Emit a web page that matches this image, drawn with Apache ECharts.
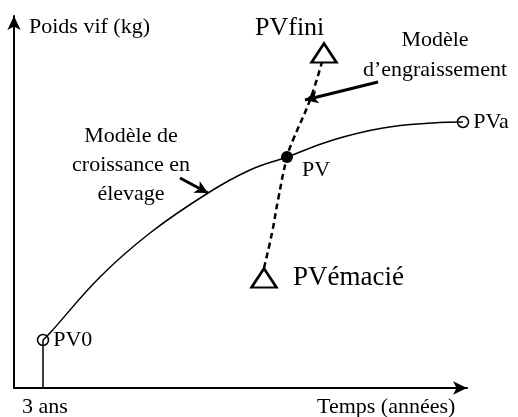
<!DOCTYPE html>
<html>
<head>
<meta charset="utf-8">
<script src="https://cdn.jsdelivr.net/npm/echarts@6/dist/echarts.min.js"></script>
<style>
  html, body { margin: 0; padding: 0; background: #fff; }
  #chart { width: 518px; height: 417px; }
</style>
</head>
<body>
<div id="chart"></div>
<script>
// schematic units (x: time, y: live weight)
const growthCurve = [[29, 48], [36, 55], [86, 111], [136, 155], [194, 195], [236, 218], [273, 231],
  [319, 248], [369, 260], [419, 265], [449, 266]]
const fatteningCurve = [[250, 120], [258, 155], [264, 188], [273, 231], [279, 248], [296, 288], [308, 326]]
const startTick = [[29, 0], [29, 48]]
const openPoints = [{ name: 'PV0', value: [29, 48] }, { name: 'PVa', value: [449, 266] }]
const currentPoint = [{ name: 'PV', value: [273, 231] }]
const triangles = [{ name: 'PVfini', value: [310, 335] }, { name: 'PVémacié', value: [250, 110] }]
const growthArrow = [[166, 210], [194, 195]]
const fatteningArrow = [[364, 306], [291, 288]]

const serif = '"Liberation Serif", "DejaVu Serif", serif'
const chart = echarts.init(document.getElementById('chart'))

function label(text, x, y, size) {
  return {
    type: 'text', x: x, y: y,
    style: { text: text, font: size + 'px ' + serif, fill: '#000', align: 'left', verticalAlign: 'middle' }
  }
}

chart.setOption({
  animation: false,
  grid: { left: 14, right: 51, top: 16, bottom: 29 },
  xAxis: {
    type: 'value', min: 0, max: 453,
    splitLine: { show: false }, axisTick: { show: false }, axisLabel: { show: false },
    axisLine: {
      onZero: false, symbol: ['none', 'arrow'], symbolSize: [10, 14],
      lineStyle: { color: '#000', width: 2 }
    }
  },
  yAxis: {
    type: 'value', min: 0, max: 372,
    splitLine: { show: false }, axisTick: { show: false }, axisLabel: { show: false },
    axisLine: {
      onZero: false, symbol: ['none', 'arrow'], symbolSize: [10, 14],
      lineStyle: { color: '#000', width: 2 }
    }
  },
  series: [
    {
      type: 'line', data: growthCurve, smooth: 0.4, symbol: 'none',
      lineStyle: { color: '#000', width: 1.5 },
      markLine: {
        silent: true, symbol: ['none', 'arrow'], symbolSize: [10, 13],
        label: { show: false },
        lineStyle: { color: '#000', width: 3, type: 'solid' },
        data: [
          [{ coord: growthArrow[0] }, { coord: growthArrow[1] }],
          [{ coord: fatteningArrow[0] }, { coord: fatteningArrow[1] }]
        ]
      }
    },
    {
      type: 'line', data: fatteningCurve, smooth: 0.4, symbol: 'none',
      lineStyle: { color: '#000', width: 2.5, type: [6, 4] }
    },
    {
      type: 'line', data: startTick, symbol: 'none',
      lineStyle: { color: '#000', width: 1.5 }
    },
    {
      type: 'scatter', data: openPoints, symbol: 'circle', symbolSize: 11,
      itemStyle: { color: '#fff', borderColor: '#000', borderWidth: 1.5, opacity: 1 },
      label: {
        show: true, position: 'right', distance: 4, formatter: '{b}',
        color: '#000', fontFamily: serif, fontSize: 22
      }
    },
    {
      type: 'scatter', data: currentPoint, symbol: 'circle', symbolSize: 12,
      itemStyle: { color: '#000', opacity: 1 },
      label: {
        show: true, position: 'right', distance: 5, offset: [4, 13], formatter: '{b}',
        color: '#000', fontFamily: serif, fontSize: 22
      }
    },
    {
      type: 'scatter', data: triangles, symbol: 'triangle', symbolSize: [25, 19],
      itemStyle: { color: '#fff', borderColor: '#000', borderWidth: 2.5, opacity: 1 },
      label: { show: false }
    }
  ],
  graphic: [
    label('Poids vif (kg)', 29, 27, 22),
    label('PVfini', 255, 28, 26),
    label('PVémacié', 293, 278, 27),
    label('3 ans', 22, 407, 22),
    label('Temps (années)', 317, 407, 22),
    {
      type: 'text', x: 435, y: 25,
      style: {
        text: 'Modèle\nd’engraissement', font: '22px ' + serif, fill: '#000',
        align: 'center', verticalAlign: 'top', lineHeight: 30
      }
    },
    {
      type: 'text', x: 131, y: 122,
      style: {
        text: 'Modèle de\ncroissance en\nélevage', font: '22px ' + serif, fill: '#000',
        align: 'center', verticalAlign: 'top', lineHeight: 29
      }
    }
  ]
})
</script>
</body>
</html>
